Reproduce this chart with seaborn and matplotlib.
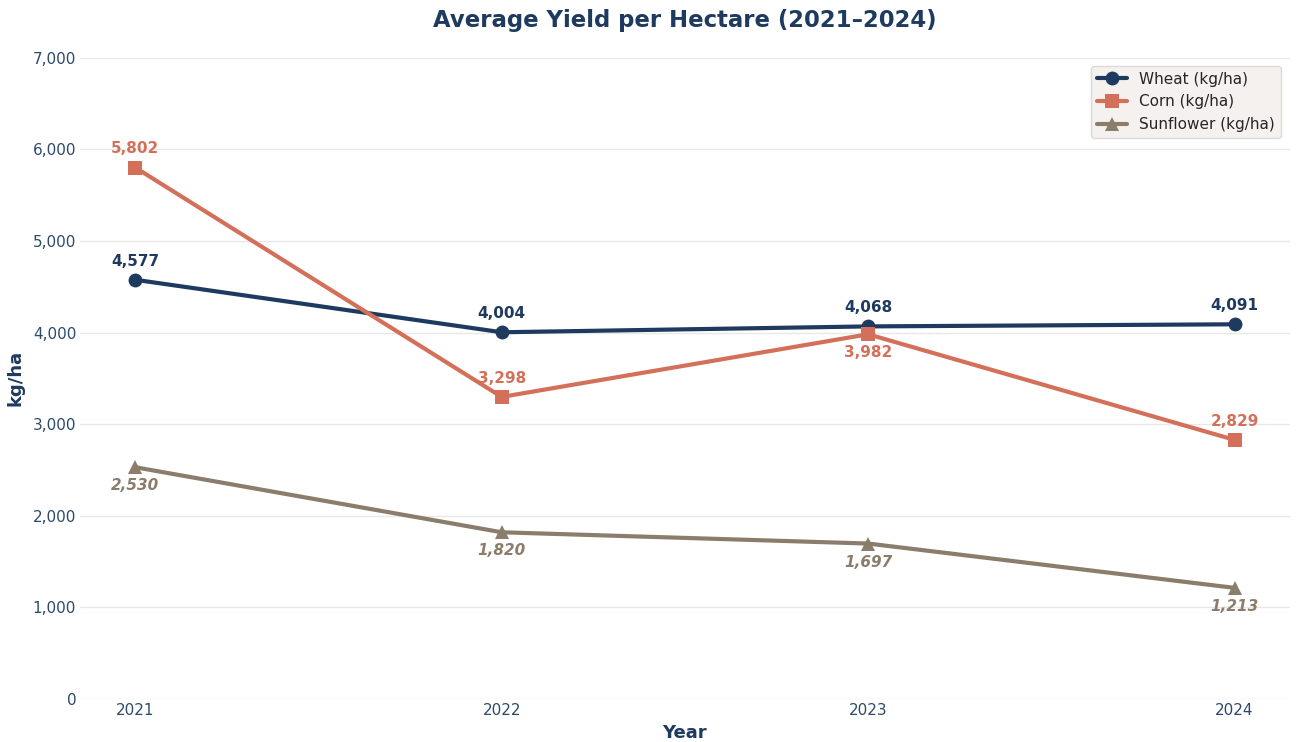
import matplotlib
matplotlib.use("Agg")
import matplotlib.pyplot as plt
import seaborn as sns
import pandas as pd
from matplotlib.ticker import FuncFormatter, MultipleLocator

years = [2021, 2022, 2023, 2024]
wheat = [4577, 4004, 4068, 4091]
corn = [5802, 3298, 3982, 2829]
sunflower = [2530, 1820, 1697, 1213]
series_names = ["Wheat (kg/ha)", "Corn (kg/ha)", "Sunflower (kg/ha)"]

sns.set_theme(style="white")
plt.rcParams['font.family'] = ['DejaVu Sans']

colors = ["#1f3a5f", "#d4705a", "#8b7d6b"]
markers = ["o", "s", "^"]

df = pd.DataFrame({
    "Year": years * 3,
    "Value": wheat + corn + sunflower,
    "Series": sum([[n] * 4 for n in series_names], []),
})

fig = plt.figure(figsize=(12.96, 7.42), dpi=100)
ax = fig.add_axes([0.062, 0.058, 0.933, 0.864])

for name, col, mk in zip(series_names, colors, markers):
    sub = df[df["Series"] == name]
    sns.lineplot(data=sub, x="Year", y="Value", ax=ax, color=col, marker=mk,
                 markersize=10, linewidth=3, markeredgewidth=0, label=name)

# annotations
for x, v in zip(years, wheat):
    ax.annotate(f"{v:,}", (x, v), xytext=(0, 8), textcoords="offset points",
                ha="center", va="bottom", fontsize=11, fontweight="bold", color=colors[0])
for i, (x, v) in enumerate(zip(years, corn)):
    if i == 2:
        ax.annotate(f"{v:,}", (x, v), xytext=(0, -8), textcoords="offset points",
                    ha="center", va="top", fontsize=11, fontweight="bold", color=colors[1])
    else:
        ax.annotate(f"{v:,}", (x, v), xytext=(0, 8), textcoords="offset points",
                    ha="center", va="bottom", fontsize=11, fontweight="bold", color=colors[1])
for x, v in zip(years, sunflower):
    ax.annotate(f"{v:,}", (x, v), xytext=(0, -8), textcoords="offset points",
                ha="center", va="top", fontsize=11, fontweight="bold", fontstyle="italic",
                color=colors[2])

ax.set_ylim(0, 7000)
ax.yaxis.set_major_locator(MultipleLocator(1000))
ax.yaxis.set_major_formatter(FuncFormatter(lambda v, p: f"{int(v):,}"))
ax.set_xticks(years)
ax.set_xticklabels([str(y) for y in years])
ax.tick_params(axis="both", labelsize=11, labelcolor="#2d4a6b", length=0, pad=3)
ax.grid(axis="y", color="#e8e8e8", linewidth=1)
ax.grid(axis="x", visible=False)
for s in ax.spines.values():
    s.set_visible(False)

ax.set_xlabel("Year", fontsize=13, fontweight="bold", color="#1f3a5f", labelpad=4)
ax.set_ylabel("kg/ha", fontsize=13, fontweight="bold", color="#1f3a5f", labelpad=6)
ax.set_title("Average Yield per Hectare (2021–2024)", fontsize=16.4, fontweight="bold",
             color="#1f3a5f", pad=22)

leg = ax.legend(loc="upper right", fontsize=11, frameon=True, facecolor="#f3eeea",
                edgecolor="#d8d2cc", bbox_to_anchor=(0.9995, 1.0))
leg.get_frame().set_linewidth(1)

fig.savefig("out.png", dpi=100)
